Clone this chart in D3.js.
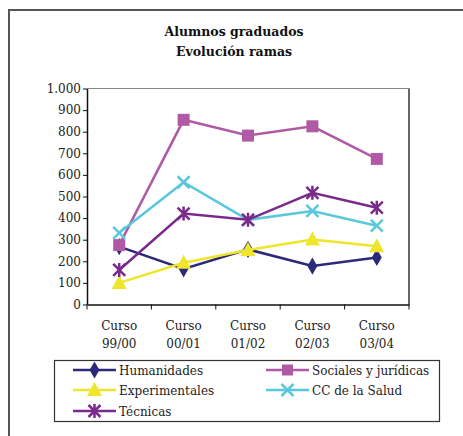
<!DOCTYPE html>
<html><head><meta charset="utf-8">
<script src="https://cdn.jsdelivr.net/npm/d3@7"></script>
<style>body{margin:0;background:#fff}svg{display:block}</style>
</head><body>
<svg id="c" width="463" height="436"></svg>
<script>
const categories = ["Curso 99/00","Curso 00/01","Curso 01/02","Curso 02/03","Curso 03/04"];
const humanidades = [268, 165, 255, 178, 218];
const sociales = [275, 855, 782, 825, 674];
const experimentales = [100, 193, 252, 301, 270];
const ccSalud = [332, 566, 392, 433, 365];
const tecnicas = [160, 421, 392, 517, 448];
const yTicks = [0,100,200,300,400,500,600,700,800,900,1000];
const seriesNames = ["Humanidades","Sociales y jurídicas","Experimentales","CC de la Salud","Técnicas"];
const seriesColors = ["#2c2a78","#b05aa6","#efe62b","#5ac8dc","#7a2a8a"];
const seriesSymbols = ["diamond","square","triangle","x","star"];
const titleLines = ["Alumnos graduados","Evolución ramas"];

const seriesData = [humanidades, sociales, experimentales, ccSalud, tecnicas];
const svg = d3.select("#c");
const font = "'DejaVu Serif', serif";

// outer frame
svg.append("path").attr("d","M9,436 V10 H463").attr("fill","none").attr("stroke","#555").attr("stroke-width",2);

// title
svg.append("g").selectAll("text").data(titleLines).join("text")
  .attr("x",234).attr("y",(d,i)=>36+i*20).attr("text-anchor","middle")
  .attr("font-family",font).attr("font-weight","bold").attr("font-size",12.5).attr("fill","#111").text(d=>d);

const m = {l:87, r:409, t:88.5, b:304.5};
const x = d3.scaleBand().domain(categories).range([m.l,m.r]);
const y = d3.scaleLinear().domain([0,1000]).range([m.b,m.t]);
const loc = d3.formatLocale({decimal:",",thousands:".",grouping:[3],currency:["",""]});
const fmt = loc.format(",d");

// plot border top/right
svg.append("line").attr("x1",m.l).attr("x2",m.r).attr("y1",m.t).attr("y2",m.t).attr("stroke","#888").attr("stroke-width",1.2);
svg.append("line").attr("x1",m.r).attr("x2",m.r).attr("y1",m.t).attr("y2",m.b).attr("stroke","#666").attr("stroke-width",2);

// y axis
const ya = svg.append("g").attr("transform",`translate(${m.l},0)`)
  .call(d3.axisLeft(y).tickValues(yTicks).tickFormat(fmt).tickSize(4).tickSizeOuter(0));
ya.select(".domain").attr("stroke","#111").attr("stroke-width",1.5);
ya.selectAll(".tick line").attr("stroke","#111");
ya.selectAll("text").attr("font-family",font).attr("font-size",12).attr("fill","#222").attr("x",-6);

// x axis
const xa = svg.append("g").attr("transform",`translate(0,${m.b})`)
  .call(d3.axisBottom(x).tickSize(0).tickFormat(""));
xa.select(".domain").attr("stroke","#111").attr("stroke-width",1.5);
const bounds = [m.l].concat(categories.map(c=>x(c)+x.bandwidth()));
xa.selectAll(".bnd").data(bounds).join("line").attr("class","bnd")
  .attr("x1",d=>d).attr("x2",d=>d).attr("y1",0).attr("y2",5).attr("stroke","#111");
categories.forEach(c=>{
  const parts = c.split(" ");
  const t = xa.append("text").attr("text-anchor","middle").attr("font-family",font).attr("font-size",12).attr("fill","#222");
  parts.forEach((p,i)=>t.append("tspan").attr("x",x(c)+x.bandwidth()/2).attr("y",25+i*18).text(p));
});

function marker(g, type, color, cx, cy, s){
  if(type==="diamond"){
    g.append("path").attr("d",d3.symbol(d3.symbolDiamond, 85)()).attr("transform",`translate(${cx},${cy})`).attr("fill",color);
  } else if(type==="square"){
    g.append("rect").attr("x",cx-s/2).attr("y",cy-s/2).attr("width",s).attr("height",s).attr("fill",color);
  } else if(type==="triangle"){
    g.append("path").attr("d",`M${cx},${cy-8}L${cx+7.5},${cy+6}L${cx-7.5},${cy+6}Z`).attr("fill",color);
  } else if(type==="x"){
    g.append("path").attr("d",`M${cx-6},${cy-6}L${cx+6},${cy+6}M${cx-6},${cy+6}L${cx+6},${cy-6}`).attr("stroke",color).attr("stroke-width",2.5);
  } else if(type==="star"){
    g.append("path").attr("d",`M${cx-6},${cy-6}L${cx+6},${cy+6}M${cx-6},${cy+6}L${cx+6},${cy-6}M${cx},${cy-7}L${cx},${cy+7}`).attr("stroke",color).attr("stroke-width",2.5);
  }
}

const line = d3.line().x((d,i)=>x(categories[i])+x.bandwidth()/2).y(d=>y(d));
seriesData.forEach((vals,si)=>{
  const g = svg.append("g");
  g.append("path").attr("d",line(vals)).attr("fill","none").attr("stroke",seriesColors[si]).attr("stroke-width",2.5);
  vals.forEach((v,i)=>marker(g, seriesSymbols[si], seriesColors[si], x(categories[i])+x.bandwidth()/2, y(v), 12));
});

// legend
svg.append("rect").attr("x",54.5).attr("y",360.5).attr("width",385).attr("height",61).attr("fill","#fff").attr("stroke","#333").attr("stroke-width",1.2);
const legPos = [[73,370],[266,370],[73,390],[266,390],[73,411]];
seriesNames.forEach((n,i)=>{
  const [lx,ly] = legPos[i];
  const g = svg.append("g");
  g.append("line").attr("x1",lx).attr("x2",lx+43).attr("y1",ly).attr("y2",ly).attr("stroke",seriesColors[i]).attr("stroke-width",2.5);
  marker(g, seriesSymbols[i], seriesColors[i], lx+21.5, ly, 11);
  g.append("text").attr("x",lx+46).attr("y",ly+4.5).attr("font-family",font).attr("font-size",12).attr("fill","#222").text(n);
});
</script>
</body></html>
